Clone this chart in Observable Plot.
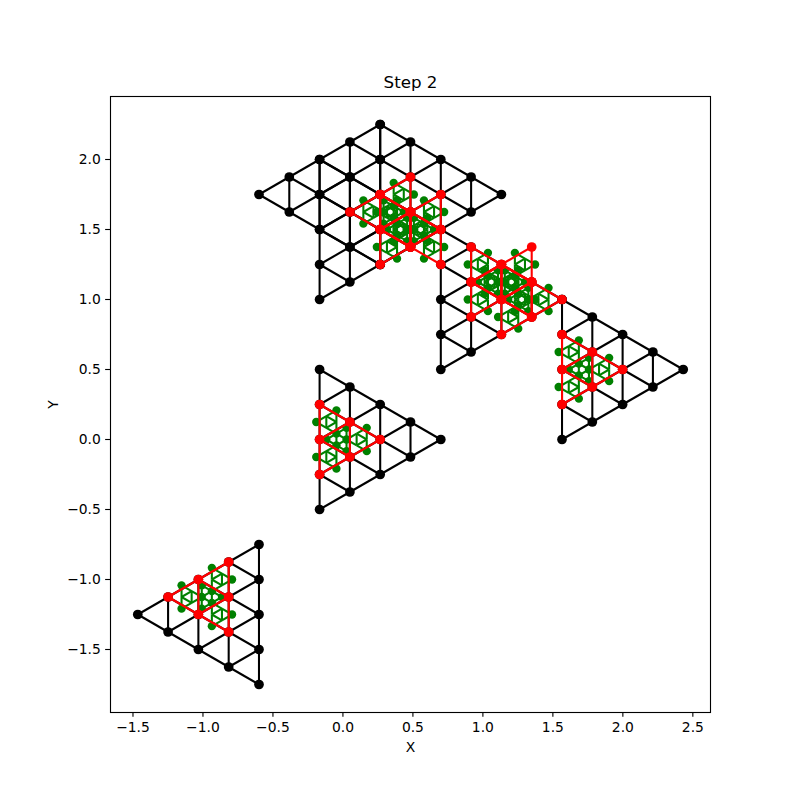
<!DOCTYPE html>
<html><head><meta charset="utf-8">
<style>html,body{margin:0;padding:0;background:#fff}svg{display:block}</style>
<script src="https://cdn.jsdelivr.net/npm/d3@7"></script>
<script src="https://cdn.jsdelivr.net/npm/@observablehq/plot@0.6"></script>
</head><body><div id="chart"></div>
<script>
const xTicks=[-1.5,-1,-0.5,0,0.5,1,1.5,2,2.5];
const yTicks=[-1.5,-1,-0.5,0,0.5,1,1.5,2];
// triangle corners: [x,y] x3
const blackTriangles=[
 [[-0.1667,0.5],[-0.1667,-0.5],[0.6993,0]],
 [[1.5653,1],[1.5653,0],[2.4313,0.5]],
 [[-0.5997,-0.75],[-0.5997,-1.75],[-1.4657,-1.25]],
 [[0.6993,1.5],[0.6993,0.5],[1.5653,1]],
 [[-0.1667,2],[-0.1667,1],[0.6993,1.5]],
 [[0.2663,2.25],[0.2663,1.25],[-0.5997,1.75]],
 [[0.2663,2.25],[0.2663,1.25],[1.1323,1.75]]
];
const redTriangles=[
 [[-0.1667,0.25],[-0.1667,-0.25],[0.2663,0]],
 [[1.5653,0.75],[1.5653,0.25],[1.9983,0.5]],
 [[-0.8162,-0.875],[-0.8162,-1.375],[-1.2492,-1.125]],
 [[0.4828,1.875],[0.4828,1.375],[0.0498,1.625]],
 [[0.2663,1.75],[0.2663,1.25],[0.6993,1.5]],
 [[0.6993,1.75],[0.6993,1.25],[0.2663,1.5]],
 [[0.9158,1.375],[0.9158,0.875],[1.3488,1.125]],
 [[1.3488,1.375],[1.3488,0.875],[0.9158,1.125]],
 [[1.1323,1.25],[1.1323,0.75],[1.5653,1]]
];
const greenSide=1/6;
function lattice(t,n){
 const [A,B,C]=t, P=(i,j)=>[A[0]+(i/n)*(B[0]-A[0])+(j/n)*(C[0]-A[0]),A[1]+(i/n)*(B[1]-A[1])+(j/n)*(C[1]-A[1])];
 const nodes=[],edges=[];
 for(let i=0;i<=n;i++)for(let j=0;j<=n-i;j++){
  nodes.push(P(i,j));
  if(i+j<n){edges.push([P(i,j),P(i+1,j)],[P(i,j),P(i,j+1)],[P(i+1,j),P(i,j+1)]);}
 }
 return {nodes,edges};
}
function greenOf(t){
 const mid=(a,b)=>[(a[0]+b[0])/2,(a[1]+b[1])/2],[A,B,C]=t;
 const subs=[[A,mid(A,B),mid(A,C)],[mid(A,B),B,mid(B,C)],[mid(A,C),mid(B,C),C],[mid(A,B),mid(B,C),mid(A,C)]];
 return subs.map((s,idx)=>{
  const c=[(s[0][0]+s[1][0]+s[2][0])/3,(s[0][1]+s[1][1]+s[2][1])/3];
  const r=greenSide/Math.sqrt(3), R=Math.hypot(s[0][0]-c[0],s[0][1]-c[1]);
  const sign=idx===3?1:-1;
  return s.map(v=>[c[0]+sign*(v[0]-c[0])*r/R,c[1]+sign*(v[1]-c[1])*r/R]);
 });
}
const greenTriangles=redTriangles.flatMap(greenOf);
const edgeMark=(tris,n,color)=>Plot.link(tris.flatMap(t=>lattice(t,n).edges),{x1:d=>d[0][0],y1:d=>d[0][1],x2:d=>d[1][0],y2:d=>d[1][1],stroke:color,strokeWidth:2.08});
const dotMark=(tris,n,color,rad)=>Plot.dot(tris.flatMap(t=>lattice(t,n).nodes),{x:d=>d[0],y:d=>d[1],r:rad,fill:color,stroke:"none"});
const fmt=d3.format(".1f");
const ink="#000";
const plot=Plot.plot({
 width:800,height:800,marginLeft:110,marginRight:90,marginTop:96,marginBottom:88,
 style:{background:"#fff",fontFamily:"DejaVu Sans",color:"#000",overflow:"visible"},
 x:{domain:[-1.6606,2.6262]},
 y:{domain:[-1.95,2.45]},
 marks:[
  edgeMark(blackTriangles,4,"#000"),
  dotMark(blackTriangles,4,"#000",4.86),
  edgeMark(greenTriangles,2,"#008000"),
  dotMark(greenTriangles,1,"#008000",4.17),
  edgeMark(redTriangles,2,"#ff0000"),
  dotMark(redTriangles,2,"#ff0000",4.86),
  Plot.frame({stroke:ink,strokeWidth:1.11}),
  Plot.axisX({ticks:xTicks,tickSize:4.86,tickPadding:4.8,tickFormat:fmt,fontSize:13.89,strokeWidth:1.11,label:"X",labelAnchor:"center",labelArrow:"none",labelOffset:39}),
  Plot.axisY({ticks:yTicks,tickSize:4.86,tickPadding:4.8,tickFormat:fmt,fontSize:13.89,strokeWidth:1.11,label:"Y",labelAnchor:"center",labelArrow:"none",labelOffset:62}),
  Plot.text(["Step 2"],{frameAnchor:"top",dy:-20,fontSize:16.67,fill:ink})
 ]
});
document.getElementById("chart").appendChild(plot);
</script></body></html>
